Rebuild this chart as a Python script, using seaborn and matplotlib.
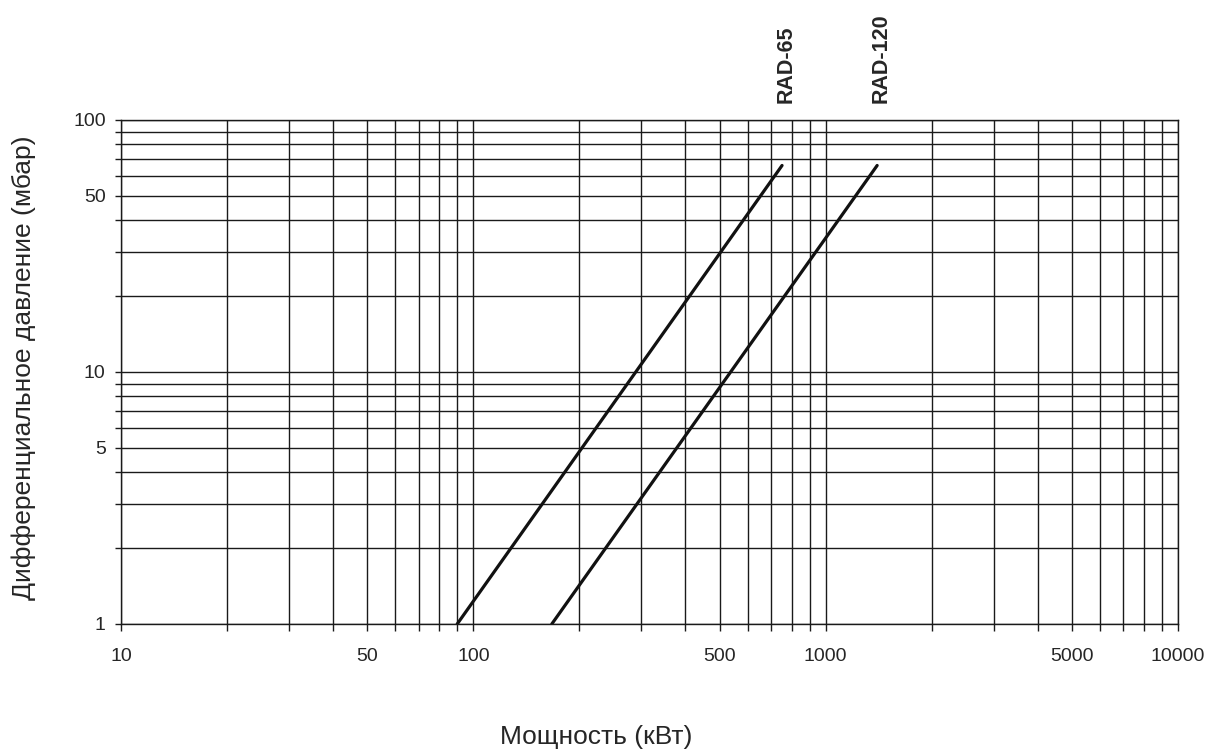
import numpy as np
import pandas as pd
import matplotlib
matplotlib.use('Agg')
import matplotlib.pyplot as plt
import matplotlib.ticker as mticker
import seaborn as sns

sns.set_style('white')
plt.rcParams['font.family'] = ['Liberation Sans', 'DejaVu Sans']

# end points of the two valve curves (kW, mbar)
models = ['RAD-65', 'RAD-120']
power_65 = [90, 752]
dp_65 = [1, 66]
power_120 = [167, 1400]
dp_120 = [1, 66]

x_major = [10, 50, 100, 500, 1000, 5000, 10000]
y_major = [1, 5, 10, 50, 100]

df = pd.concat([
    pd.DataFrame({'power': power_65, 'dp': dp_65, 'model': models[0]}),
    pd.DataFrame({'power': power_120, 'dp': dp_120, 'model': models[1]}),
])

fig = plt.figure(figsize=(12.07, 7.49), dpi=100)
ax = fig.add_axes([121/1207, 1-624/749, 1057/1207, 504/749])

sns.lineplot(data=df, x='power', y='dp', units='model', estimator=None,
             color='#111111', lw=2.3, ax=ax, legend=False)

ax.set_xscale('log')
ax.set_yscale('log')
ax.set_xlim(10, 10000)
ax.set_ylim(1, 100)

ax.xaxis.set_major_locator(mticker.FixedLocator(x_major))
ax.xaxis.set_major_formatter(mticker.FixedFormatter([str(v) for v in x_major]))
ax.xaxis.set_minor_locator(mticker.LogLocator(base=10, subs=np.arange(1, 10)))
ax.xaxis.set_minor_formatter(mticker.NullFormatter())
ax.yaxis.set_major_locator(mticker.FixedLocator(y_major))
ax.yaxis.set_major_formatter(mticker.FixedFormatter([str(v) for v in y_major]))
ax.yaxis.set_minor_locator(mticker.LogLocator(base=10, subs=np.arange(1, 10)))
ax.yaxis.set_minor_formatter(mticker.NullFormatter())

ax.grid(True, which='both', color='#1a1a1a', lw=1.0)
for s in ax.spines.values():
    s.set_color('#1a1a1a')
    s.set_linewidth(1.0)

ax.tick_params(axis='x', which='both', direction='out', length=5, width=1,
               color='#1a1a1a', pad=12, labelsize=14, bottom=True)
ax.tick_params(axis='y', which='both', direction='out', length=4, width=1,
               color='#1a1a1a', pad=7, labelsize=14, left=True)

ax.set_xlabel('Мощность (кВт)', fontsize=19)
ax.set_ylabel('Дифференциальное давление (мбар)', fontsize=19)
ax.xaxis.set_label_coords(0.45, -0.2)
ax.yaxis.set_label_coords(-0.08, 0.509)

for name, px in zip(models, [power_65[-1], power_120[-1]]):
    ax.annotate(name, xy=(px, 1), xycoords=('data', 'axes fraction'),
                xytext=(3, 12), textcoords='offset points', rotation=90,
                ha='center', va='bottom', fontsize=15.5, fontweight='bold')

fig.savefig('out.png', dpi=100)
